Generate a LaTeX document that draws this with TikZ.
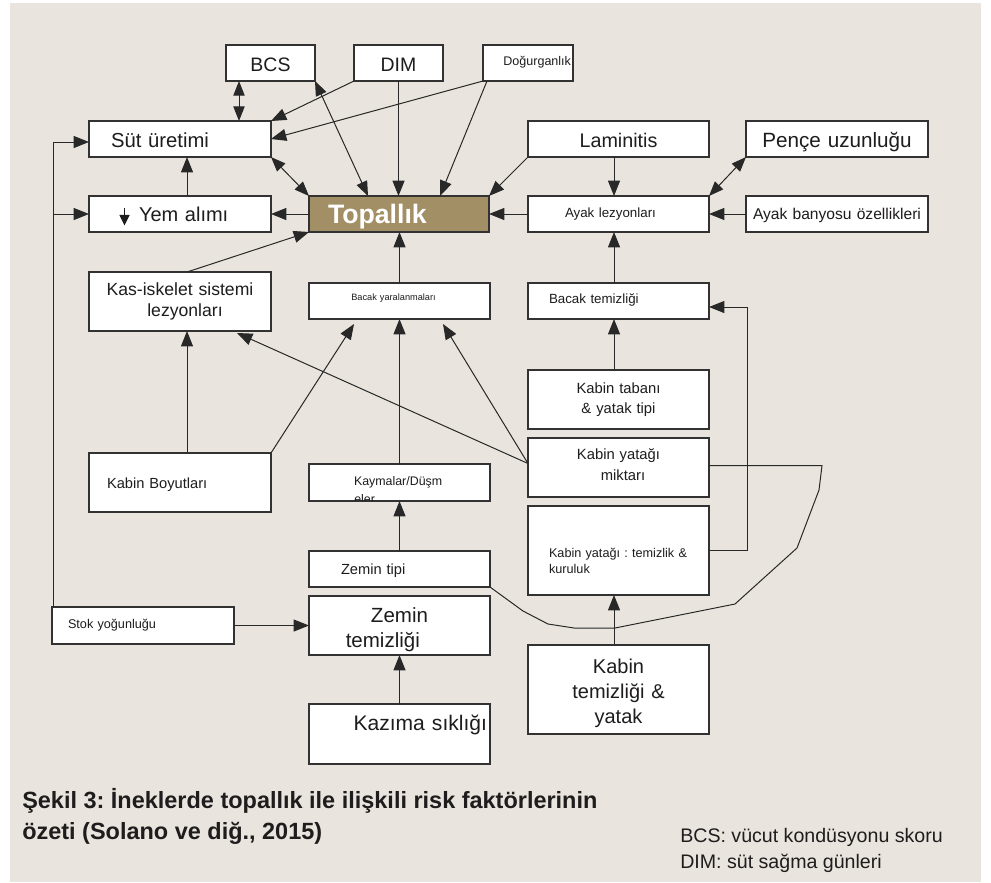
\documentclass[tikz,border=0pt]{standalone}
\usepackage{fontspec}
\setmainfont{Liberation Sans}
\usetikzlibrary{arrows.meta,calc}
\frenchspacing
\definecolor{bgc}{RGB}{233,229,222}
\definecolor{topc}{RGB}{163,143,101}
\definecolor{lnc}{RGB}{40,40,40}
\definecolor{bdc}{RGB}{50,50,50}
\definecolor{txc}{RGB}{30,28,28}
\newcommand\fz[2]{\fontsize{#1pt}{#2pt}\selectfont}
\newcommand\ind[1]{\hspace*{\fpeval{#1*0.75}pt}}
\newcommand\tbox[9]{%
\node[bx,
 minimum width=\fpeval{(#4-#2)*0.75}pt,
 minimum height=\fpeval{(#5-#3)*0.75}pt,
 inner xsep=\fpeval{#6*0.75}pt, inner ysep=0pt,
 text width=\fpeval{(#4-#2-2*#6)*0.75}pt,
 text height=\fpeval{(#7-#3)*0.75}pt,
 text depth=\fpeval{(#5-#7)*0.75}pt,#8]
 (#1) at ({(#2+#4)/2},{(#3+#5)/2}) {#9};}
\begin{document}
\begin{tikzpicture}[x=0.75pt,y=-0.75pt,
  bx/.style={draw=bdc,fill=white,line width=1pt,outer sep=0pt,text=txc},
  ar/.style={draw=lnc,line width=0.75pt,-{Triangle[length=11.5pt,width=9pt]}},
  dar/.style={draw=lnc,line width=0.75pt,{Triangle[length=11pt,width=8.5pt]}-{Triangle[length=11pt,width=8.5pt]}},
  ln/.style={draw=lnc,line width=0.75pt},
  captxt/.style={anchor=base west,inner sep=0pt,text=txc}]
\useasboundingbox (0,0) rectangle (991,882);
\fill[bgc] (10,3) rectangle (981,882);

% boxes
\tbox{bcs}{226}{45}{315}{81}{2}{71}{align=center,font=\fz{14.6}{17}}{BCS}
\tbox{dim}{354}{45}{443}{81}{2}{71}{align=center,font=\fz{14.6}{17}}{DIM}
\tbox{dog}{483}{45}{573}{81}{2}{65.5}{align=right,font=\fz{9.4}{11}}{Doğurganlık}
\tbox{sut}{89}{121}{271}{157}{2}{147}{align=left,font=\fz{15.2}{18}}{\ind{20}Süt üretimi}
\tbox{yem}{89}{196}{271}{232}{2}{221}{align=left,font=\fz{15}{18}}{\ind{48}Yem alımı}
\tbox{top}{309}{196}{489}{232}{2}{223}{align=left,fill=topc,text=white,font=\bfseries\fz{20}{22}}{\ind{17}Topallık}
\tbox{lam}{528}{121}{709}{157}{2}{147}{align=center,font=\fz{14.8}{18}}{Laminitis}
\tbox{pen}{746}{121}{928}{157}{2}{147}{align=center,font=\fz{15.5}{18}}{Pençe uzunluğu}
\tbox{ayk}{528}{196}{709}{232}{2}{217}{align=left,font=\fz{10}{12}}{\ind{35}Ayak lezyonları}
\tbox{ban}{746}{196}{928}{232}{2}{219}{align=center,font=\fz{11.7}{14}}{Ayak banyosu özellikleri}
\tbox{kas}{89}{272}{271}{331}{2}{295.5}{align=center,font=\fz{13.2}{15.75}}{Kas-iskelet sistemi\\\hspace*{7.5pt}lezyonları}
\tbox{byar}{309}{283}{490}{319}{2}{300}{align=center,font=\fz{6.9}{8}}{Bacak yaralanmaları\hspace*{9pt}}
\tbox{bte}{528}{283}{709}{319}{2}{303}{align=left,font=\fz{10}{12}}{\ind{19}Bacak temizliği}
\tbox{kta}{528}{370}{709}{429}{2}{393}{align=center,font=\fz{11.1}{15}}{Kabin tabanı\\\& yatak tipi}
\tbox{kym}{528}{438}{709}{497}{2}{459}{align=center,font=\fz{11.1}{15.75}}{Kabin yatağı\\\hspace*{6.75pt}miktarı}
\tbox{kyt}{528}{506}{709}{595}{2}{557}{align=left,font=\fz{9.5}{12}}{\ind{19}Kabin yatağı : temizlik \&\\\ind{19}kuruluk}
\tbox{kte}{528}{645}{709}{734}{2}{673}{align=center,font=\fz{15}{19.1}}{Kabin\\temizliği \&\\yatak}
\tbox{kbo}{89}{453}{271}{512}{2}{488}{align=left,font=\fz{11}{13}}{\ind{16}Kabin Boyutları}
\tbox{kay}{309}{464}{490}{501}{2}{485}{align=left,font=\fz{9.3}{11}}{\ind{43}Kaymalar/Düşm}
\tbox{zti}{309}{551}{490}{587}{2}{574}{align=left,font=\fz{11}{13}}{\ind{30}Zemin tipi}
\tbox{zte}{309}{596}{490}{655}{2}{622}{align=center,font=\fz{15.4}{18.75}}{Zemin\hspace*{11pt}\\temizliği\hspace*{25pt}}
\tbox{stok}{52}{607}{234}{644}{2}{628}{align=left,font=\fz{9.5}{11}}{\ind{14}Stok yoğunluğu}
\tbox{kaz}{309}{704}{490}{764}{3}{730}{align=right,font=\fz{15.8}{18}}{Kazıma sıklığı}

% clipped second line of Kaymalar/Düşmeler
\begin{scope}
\clip ($(kay.north west)+(1,1)$) rectangle ($(kay.south east)+(-1,-0.8)$);
\node[captxt,font=\fz{9.3}{11}] (kay2) at ($(kay.south west)+(45,2.5)$) {eler};
\end{scope}

% small arrow in Yem alımı
\draw[txc,line width=1.1pt,-{Triangle[length=8pt,width=7.5pt]}] ($(yem.west)+(35.5,-6)$) -- ($(yem.west)+(35.5,11.5)$);

% connectors
\draw[dar] ($(bcs.south west)+(13,0)$) -- ($(sut.north west)+(150,0)$);
\draw[ar] (dim.south west) -- (sut.north east);
\draw[ar] (dog.south west) -- (sut.east);
\draw[dar] (bcs.south east) -- ($(top.north west)+(59,0)$);
\draw[ar] (dim.south) -- (dim.south |- top.north);
\draw[ar] ($(dog.south west)+(4,0)$) -- ($(top.north west)+(131,0)$);
\draw[dar] (sut.south east) -- (top.north west);
\draw[ar] (top.west) -- (yem.east);
\draw[ar] ($(yem.north)+(7,0)$) -- ($(sut.south)+(7,0)$);
\draw[ar] ($(kas.north)+(7,0)$) -- (top.south west);
\draw[ar] (byar.north) -- (byar.north |- top.south);
\draw[ar] (lam.south west) -- (top.north east);
\draw[ar] ($(lam.south)+(-4.5,0)$) -- ($(ayk.north)+(-4.5,0)$);
\draw[ar] (ayk.west) -- (top.east);
\draw[dar] (pen.south west) -- (ayk.north east);
\draw[ar] (ban.west) -- (ayk.east);
\draw[ar] ($(bte.north)+(-4.5,0)$) -- ($(ayk.south)+(-4.5,0)$);
\draw[ar] ($(kbo.north)+(7,0)$) -- ($(kas.south)+(7,0)$);
\draw[ar] (kbo.north east) -- ($(byar.south west)+(45,5)$);
\draw[ar] (kay.north) -- (byar.south);
\draw[ar] ($(kym.west)+(0,-4)$) -- ($(kas.south east)+(-34,2)$);
\draw[ar] ($(kym.west)+(0,-4)$) -- ($(byar.south west)+(134,5)$);
\draw[ar] ($(kta.north)+(-4.5,0)$) -- ($(bte.south)+(-4.5,0)$);
\draw[ar] (kyt.east) -- ++(38,0) |- ($(bte.east)+(0,6)$);
\draw[ar] ($(kte.north)+(-4.5,0)$) -- ($(kyt.south)+(-4.5,0)$);
\draw[ar] (zti.north) -- (kay.south);
\draw[ar] (stok.east) -- (zte.west);
\draw[ar] (kaz.north) -- (zte.south);
\coordinate (lft) at ($(stok.north west)+(1,0)$);
\draw[ar] (lft) |- ($(sut.west)+(0,3)$);
\draw[ar] (lft |- yem.west) -- (yem.west);
\draw[ln] ($(kym.east)+(0,-2)$) -- (822,465.5) -- (819,490) -- (797,548) -- (735,604)
  -- (615,628) -- (574,628) -- (548,624) -- (523,611) -- (zti.south east);

% caption and legend
\node[captxt,font=\bfseries\fz{17.6}{23}] (cap1) at (22,808) {Şekil 3: İneklerde topallık ile ilişkili risk faktörlerinin};
\node[captxt,font=\bfseries\fz{17.6}{23}] (cap2) at (22,839) {özeti (Solano ve diğ., 2015)};
\node[captxt,font=\fz{14.7}{20}] (leg1) at (680,842) {BCS: vücut kondüsyonu skoru};
\node[captxt,font=\fz{14.7}{20}] (leg2) at (680,868) {DIM: süt sağma günleri};
\end{tikzpicture}
\end{document}
